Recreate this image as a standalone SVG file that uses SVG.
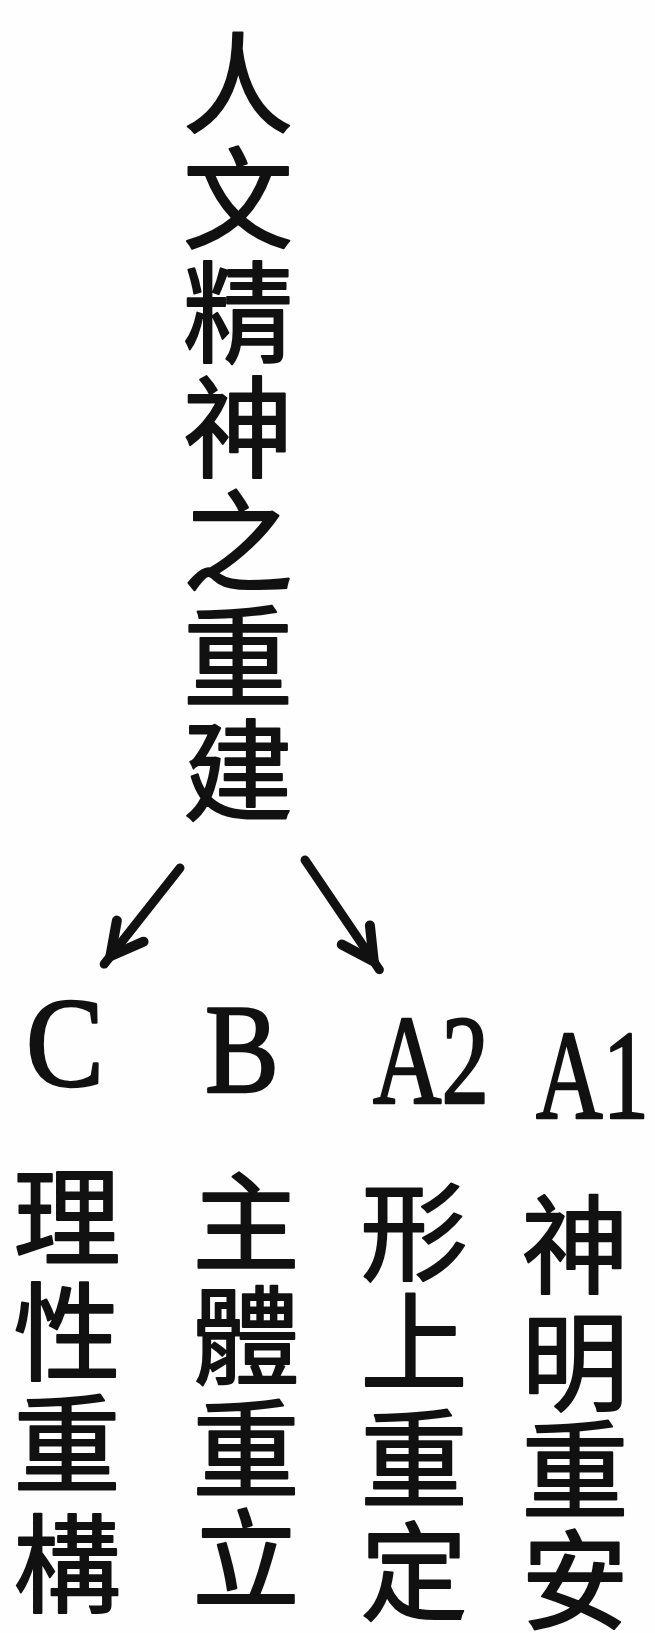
<svg xmlns="http://www.w3.org/2000/svg" width="655" height="1633" viewBox="0 0 655 1633">
  <style>
    .cjk { font-family: "Noto Sans CJK TC", "Noto Sans CJK SC", sans-serif; fill: #111; stroke: #111; stroke-width: 2; stroke-linejoin: round; text-anchor: middle; }
    .title { font-size: 110px; }
    .col { font-size: 107px; }
    .lat { font-family: "Liberation Serif", serif; font-size: 127px; fill: #111; stroke: #111; stroke-width: 2.5; stroke-linejoin: round; }
    .arrow { stroke: #111; stroke-width: 9; fill: none; stroke-linecap: round; }
  </style>
  <defs>
    <marker id="head" markerUnits="userSpaceOnUse" viewBox="-60 -30 70 60" refX="0" refY="0" markerWidth="70" markerHeight="60" orient="auto" overflow="visible">
      <path d="M-42,-17 L-10,0 L-42,17" fill="none" stroke="#111" stroke-width="10" stroke-linejoin="miter" stroke-linecap="round"/>
    </marker>
  </defs>
  <rect width="655" height="1633" fill="#fefefe"/>

  <g id="title">
    <text class="cjk title"><tspan x="238" y="125">人</tspan><tspan x="238" y="240">文</tspan><tspan x="238" y="354">精</tspan><tspan x="238" y="469">神</tspan><tspan x="238" y="583">之</tspan><tspan x="238" y="698">重</tspan><tspan x="238" y="812">建</tspan></text>
  </g>

  <g id="connectors">
    <line class="arrow" x1="180" y1="868" x2="104.2" y2="964.1" marker-end="url(#head)"/>
    <line class="arrow" x1="305" y1="860" x2="379.4" y2="969.7" marker-end="url(#head)"/>
  </g>

  <g id="node-C">
    <text class="lat" x="26" y="1086" textLength="78" lengthAdjust="spacingAndGlyphs">C</text>
    <text class="cjk col"><tspan x="67" y="1257">理</tspan><tspan x="67" y="1372">性</tspan><tspan x="67" y="1484">重</tspan><tspan x="67" y="1604">構</tspan></text>
  </g>

  <g id="node-B">
    <text class="lat" x="205" y="1092" textLength="74" lengthAdjust="spacingAndGlyphs">B</text>
    <text class="cjk col"><tspan x="246" y="1262">主</tspan><tspan x="246" y="1376">體</tspan><tspan x="246" y="1489">重</tspan><tspan x="246" y="1599">立</tspan></text>
  </g>

  <g id="node-A2">
    <text class="lat" x="373" y="1103" textLength="116" lengthAdjust="spacingAndGlyphs">A2</text>
    <text class="cjk col"><tspan x="414" y="1272">形</tspan><tspan x="414" y="1382">上</tspan><tspan x="414" y="1499">重</tspan><tspan x="414" y="1612">定</tspan></text>
  </g>

  <g id="node-A1">
    <text class="lat" x="536" y="1118" textLength="113" lengthAdjust="spacingAndGlyphs">A1</text>
    <text class="cjk col"><tspan x="575" y="1285">神</tspan><tspan x="575" y="1402">明</tspan><tspan x="575" y="1510">重</tspan><tspan x="575" y="1620">安</tspan></text>
  </g>
</svg>
